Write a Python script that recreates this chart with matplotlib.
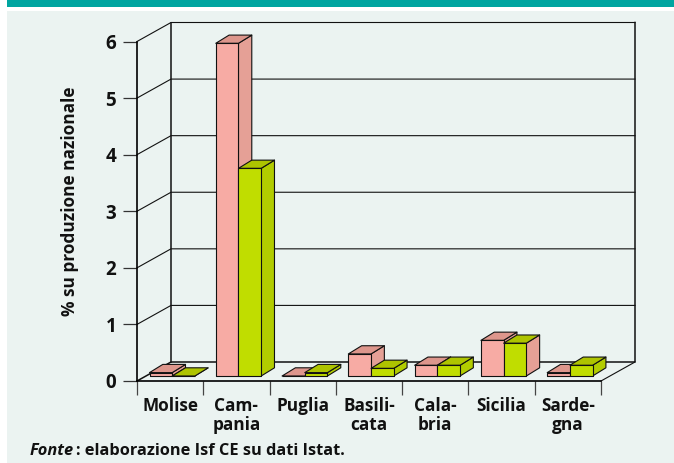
import matplotlib
matplotlib.use("Agg")
import matplotlib.pyplot as plt
from matplotlib.patches import Polygon, Rectangle
from matplotlib.transforms import ScaledTranslation

regions = ["Molise", "Cam-\npania", "Puglia", "Basili-\ncata", "Cala-\nbria", "Sicilia", "Sarde-\ngna"]
series_a = [0.06, 5.88, 0.0, 0.39, 0.19, 0.63, 0.06]
series_b = [0.0, 3.67, 0.06, 0.135, 0.19, 0.58, 0.19]
y_ticks = [0, 1, 2, 3, 4, 5, 6]

W, H = 674, 464
PANEL = "#ebf3f1"
plt.rcParams["font.family"] = ["Open Sans", "Lato", "DejaVu Sans"]
plt.rcParams["font.weight"] = "bold"

fig = plt.figure(figsize=(W / 100, H / 100), dpi=100, facecolor="white")
fig.add_artist(Rectangle((7 / W, 1 - 8 / H), 1 - 7 / W, 8 / H, transform=fig.transFigure, fc="#00a5a0", ec="none", zorder=-2))
fig.add_artist(Rectangle((7 / W, 0), 1 - 7 / W, 1 - 12 / H, transform=fig.transFigure, fc=PANEL, ec="none", zorder=-2))

L, R, T, B = 137, 601, 42.5, 382
ax = fig.add_axes([L / W, 1 - B / H, (R - L) / W, (B - T) / H])
ax.patch.set_alpha(0)
ax.set_xlim(0, len(regions))
ax.set_ylim(0, 6)

ux = (R - L) / len(regions)
uy = (B - T) / 6
wall_dx, wall_dy = 34 / ux, 19 / uy
bar_w = 22.7 / ux
bar_off = 12.5 / ux
base_dy = 5 / uy
dep_dx, dep_dy = 13.3 / ux, 8.2 / uy
n = len(regions)

# back wall, floor, side wall
for v in y_ticks[1:]:
    ax.plot([0, wall_dx, n + wall_dx], [v, v + wall_dy, v + wall_dy], color="#111111", lw=0.8, zorder=1, clip_on=False)
ax.plot([0, wall_dx, n + wall_dx, n + wall_dx], [0, wall_dy, wall_dy, 6 + wall_dy], color="#111111", lw=1.1, zorder=1, clip_on=False)
ax.plot([wall_dx, wall_dx], [wall_dy, 6 + wall_dy], color="#111111", lw=1.1, zorder=1, clip_on=False)
ax.plot([n, n + wall_dx], [0, wall_dy], color="#111111", lw=0.8, zorder=1, clip_on=False)

PINK = ("#f7aba4", "#e5a096", "#dd968c")
GREEN = ("#c0dd00", "#b2cc00", "#aec400")
# Sicilia's green box has a pink side in the reference
GREEN_SICILIA = ("#c0dd00", "#e5a096", "#aec400")


def box(x, h, faces, z):
    x0, x1 = x, x + bar_w
    y0, y1 = base_dy, base_dy + h
    kw = dict(ec="#111111", lw=0.8, joinstyle="round", clip_on=False, zorder=z)
    ax.add_patch(Polygon([(x1, y0), (x1 + dep_dx, y0 + dep_dy), (x1 + dep_dx, y1 + dep_dy), (x1, y1)], fc=faces[1], **kw))
    ax.add_patch(Polygon([(x0, y1), (x1, y1), (x1 + dep_dx, y1 + dep_dy), (x0 + dep_dx, y1 + dep_dy)], fc=faces[2], **kw))
    ax.add_patch(Rectangle((x0, y0), bar_w, h, fc=faces[0], **kw))


for i, (a, b) in enumerate(zip(series_a, series_b)):
    box(i + bar_off, a, PINK, 3 + i * 2)
    box(i + bar_off + bar_w, b, GREEN_SICILIA if regions[i] == "Sicilia" else GREEN, 4 + i * 2)

for s in ("top", "right"):
    ax.spines[s].set_visible(False)
for s in ("left", "bottom"):
    ax.spines[s].set_linewidth(1.2)
    ax.spines[s].set_zorder(30)

ax.set_yticks(y_ticks)
ax.tick_params(axis="y", length=10, width=0.9, color="#333333", labelsize=13.5, pad=5, labelcolor="#111111")
lift = ScaledTranslation(0, 1 / 100, fig.dpi_scale_trans)
for lab in ax.get_yticklabels():
    lab.set_transform(lab.get_transform() + lift)
ax.set_xticks(range(n + 1))
ax.set_xticklabels([""] * (n + 1))
ax.tick_params(axis="x", length=10, width=0.9, color="#444444")
for i, name in enumerate(regions):
    ax.annotate(name, (i + 0.5, 0), xytext=(0, -11), textcoords="offset points", xycoords=ax.get_xaxis_transform(),
                ha="center", va="top", fontsize=12.4, linespacing=1.04, color="#111111")

fig.text(70 / W, 1 - 201.5 / H, "% su produzione nazionale", rotation=90, ha="center", va="center", fontsize=12.4, color="#111111")
fig.text(30 / W, 1 - 451.5 / H, "Fonte", style="italic", ha="left", va="center", fontsize=11.8, color="#111111")
fig.text(76 / W, 1 - 451.5 / H, ": elaborazione Isf CE su dati Istat.", ha="left", va="center", fontsize=11.8, color="#111111")

fig.savefig("out.png", dpi=100, facecolor="white")
